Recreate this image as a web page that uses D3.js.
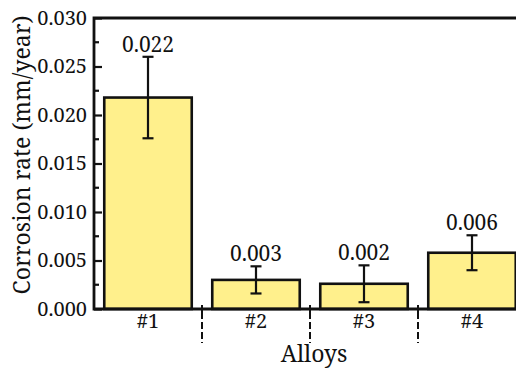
<!DOCTYPE html>
<html>
<head>
<meta charset="utf-8">
<script src="https://cdn.jsdelivr.net/npm/d3@7"></script>
</head>
<body style="margin:0">
<svg id="chart" width="516" height="370"></svg>
<script>
'use strict';

const alloys = ["#1", "#2", "#3", "#4"];
const rates = [0.0218, 0.0030, 0.0026, 0.0058];
const errors = [0.0042, 0.0014, 0.0019, 0.0018];
const valueLabels = ["0.022", "0.003", "0.002", "0.006"];
const yTicks = [0, 0.005, 0.010, 0.015, 0.020, 0.025, 0.030];
const yMinor = [0.0025, 0.0075, 0.0125, 0.0175, 0.0225, 0.0275];

const W = 516;
const mLeft = 94, mRight = 526, mTop = 18, mBottom = 309;
const FONT = "Noto Serif, Liberation Serif, serif";

const svg = d3.select("#chart")
  .attr("font-family", FONT)
  .attr("fill", "#111");

const x = d3.scaleBand()
  .domain(alloys)
  .range([mLeft, mRight])
  .paddingInner(0.19)
  .paddingOuter(0.095);

const y = d3.scaleLinear()
  .domain([0, 0.030])
  .range([mBottom, mTop]);

// bars
svg.append("g")
  .selectAll("rect")
  .data(alloys)
  .enter()
  .append("rect")
  .attr("x", d => x(d))
  .attr("y", (d, i) => y(rates[i]))
  .attr("width", x.bandwidth())
  .attr("height", (d, i) => y(0) - y(rates[i]))
  .attr("fill", "#fff08c")
  .attr("stroke", "#111")
  .attr("stroke-width", 2.6);

// error bars
const eb = svg.append("g")
  .attr("stroke", "#111")
  .attr("stroke-width", 2.2);

alloys.forEach((a, i) => {
  const cx = x(a) + x.bandwidth() / 2;
  const hi = y(rates[i] + errors[i]);
  const lo = y(rates[i] - errors[i]);
  eb.append("line").attr("x1", cx).attr("x2", cx).attr("y1", hi).attr("y2", lo);
  eb.append("line").attr("x1", cx - 5.5).attr("x2", cx + 5.5).attr("y1", hi).attr("y2", hi);
  eb.append("line").attr("x1", cx - 5.5).attr("x2", cx + 5.5).attr("y1", lo).attr("y2", lo);

  svg.append("text")
    .attr("x", cx)
    .attr("y", hi - 5)
    .attr("text-anchor", "middle")
    .attr("font-size", 21)
    .text(valueLabels[i]);
});

// y axis
const yAxis = d3.axisLeft(y)
  .tickValues(yTicks)
  .tickFormat(d3.format(".3f"))
  .tickSizeInner(-8)
  .tickSizeOuter(0)
  .tickPadding(7);

const ga = svg.append("g")
  .attr("transform", `translate(${mLeft},0)`)
  .call(yAxis)
  .attr("font-family", FONT)
  .attr("font-size", 20);
ga.select(".domain").remove();
ga.selectAll(".tick line").attr("stroke", "#111").attr("stroke-width", 2.2);
ga.selectAll(".tick text").attr("fill", "#111");

svg.append("g")
  .selectAll("line")
  .data(yMinor)
  .enter()
  .append("line")
  .attr("x1", mLeft)
  .attr("x2", mLeft + 5)
  .attr("y1", d => y(d))
  .attr("y2", d => y(d))
  .attr("stroke", "#111")
  .attr("stroke-width", 2.2);

// frame lines
svg.append("path")
  .attr("d", `M${W},${mTop}H${mLeft}V${mBottom}H${W}`)
  .attr("fill", "none")
  .attr("stroke", "#111")
  .attr("stroke-width", 2.8);

// x labels
svg.append("g")
  .selectAll("text")
  .data(alloys)
  .enter()
  .append("text")
  .attr("x", d => x(d) + x.bandwidth() / 2)
  .attr("y", 328)
  .attr("text-anchor", "middle")
  .attr("font-size", 20)
  .text(d => d);

// dashed separators between categories
svg.append("g")
  .selectAll("line")
  .data(alloys.slice(1))
  .enter()
  .append("line")
  .attr("x1", d => x(d) - x.step() * x.paddingInner() / 2)
  .attr("x2", d => x(d) - x.step() * x.paddingInner() / 2)
  .attr("y1", mBottom - 4)
  .attr("y2", 343)
  .attr("stroke", "#111")
  .attr("stroke-width", 2)
  .attr("stroke-dasharray", "14,3,7,3,7,3");

svg.append("text")
  .attr("x", 314)
  .attr("y", 362)
  .attr("text-anchor", "middle")
  .attr("font-size", 23)
  .text("Alloys");

svg.append("text")
  .attr("transform", "translate(30,155) rotate(-90)")
  .attr("text-anchor", "middle")
  .attr("font-size", 23)
  .text("Corrosion rate (mm/year)");
</script>
</body>
</html>
